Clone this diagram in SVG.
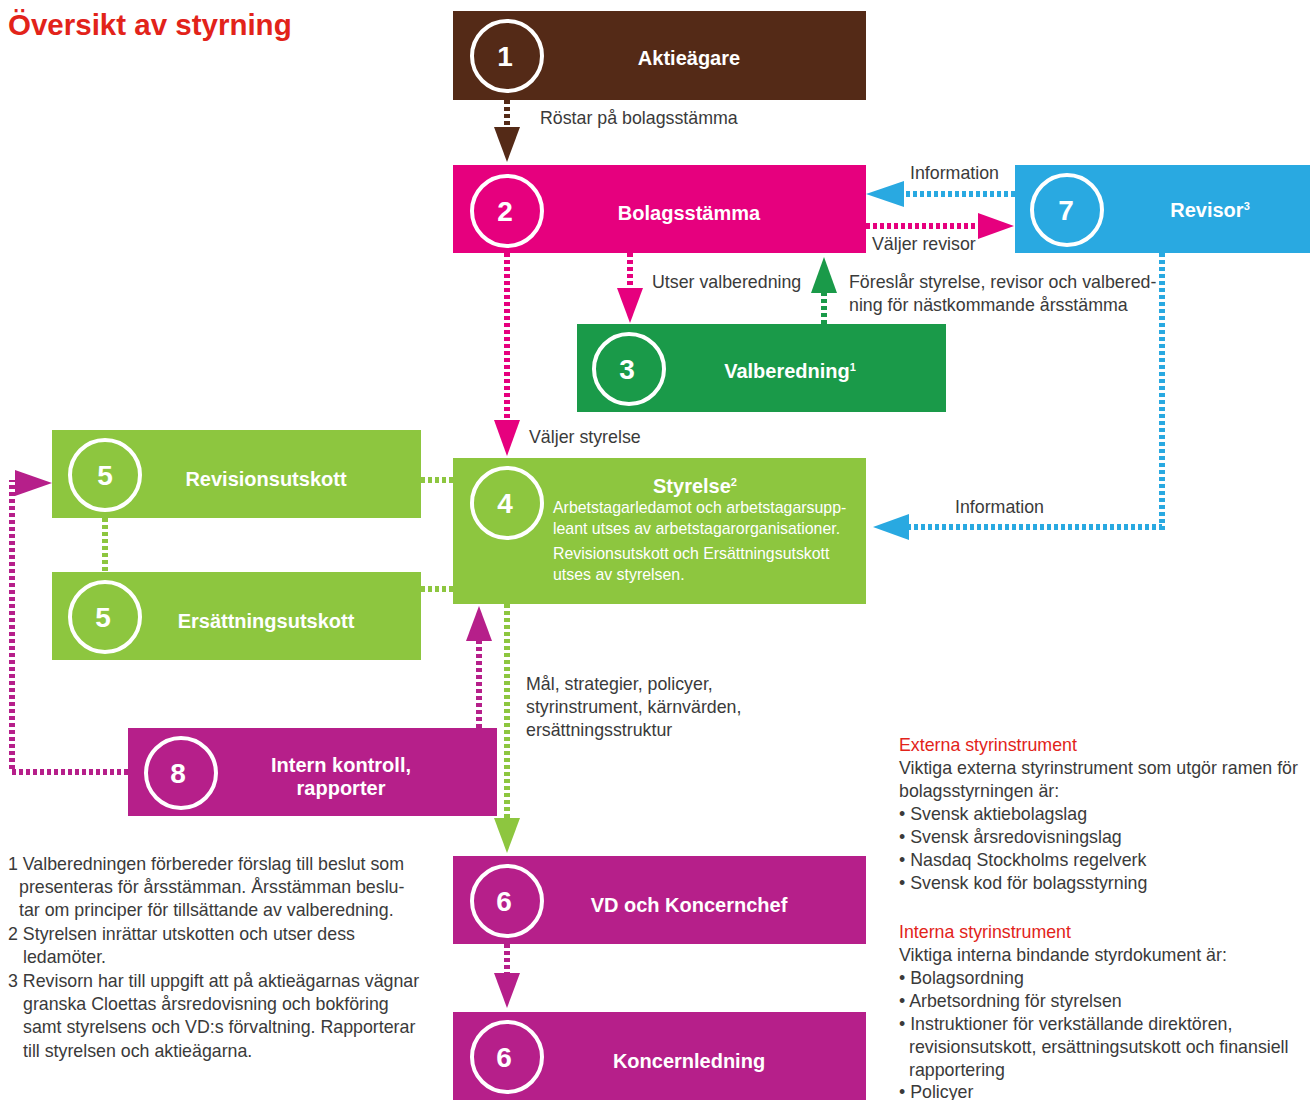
<svg xmlns="http://www.w3.org/2000/svg" width="1312" height="1100" viewBox="0 0 1312 1100">
<style>
  text { font-family: "Liberation Sans", Arial, sans-serif; }
  .title { font-size: 29.5px; font-weight: bold; fill: #e2231a; }
  .num { font-size: 28px; font-weight: bold; fill: #fff; text-anchor: middle; }
  .name { font-size: 20px; font-weight: bold; fill: #fff; text-anchor: middle; }
  .ring { fill: none; stroke: #fff; stroke-width: 4; }
  .lbl { font-size: 17.8px; fill: #3a3a3a; }
  .body { font-size: 15.9px; fill: #fff; }
  .note { font-size: 17.8px; fill: #3a3a3a; }
  .head { font-size: 17.8px; fill: #e2231a; }
  .dot { fill: none; stroke-width: 6; stroke-dasharray: 4 3; }
  .brown { fill: #542a17; stroke: #542a17; }
  .pink { fill: #e6007e; stroke: #e6007e; }
  .blue { fill: #29a9e1; stroke: #29a9e1; }
  .dgreen { fill: #1a9a49; stroke: #1a9a49; }
  .lgreen { fill: #8dc63f; stroke: #8dc63f; }
  .mag { fill: #b61f8a; stroke: #b61f8a; }
  .box { stroke: none; }
</style>

<text class="title" x="8" y="35">Översikt av styrning</text>

<g id="connectors">
  <!-- 1 -> 2 -->
  <line class="dot brown" x1="507" y1="100" x2="507" y2="128" style="fill:none"/>
  <polygon class="brown box" points="494,127 520,127 507,162"/>
  <!-- 7 -> 2 information -->
  <line class="dot blue" x1="1015" y1="194" x2="903" y2="194" style="fill:none"/>
  <polygon class="blue box" points="904,181 904,207 866,194"/>
  <!-- 2 -> 7 -->
  <line class="dot pink" x1="866" y1="226" x2="979" y2="226" style="fill:none"/>
  <polygon class="pink box" points="978,213 978,239 1014,226"/>
  <!-- 2 -> 3 -->
  <line class="dot pink" x1="630" y1="253" x2="630" y2="289" style="fill:none"/>
  <polygon class="pink box" points="617,288 643,288 630,323"/>
  <!-- 3 -> 2 -->
  <line class="dot dgreen" x1="824" y1="324" x2="824" y2="292" style="fill:none"/>
  <polygon class="dgreen box" points="811,293 837,293 824,257"/>
  <!-- 2 -> 4 -->
  <line class="dot pink" x1="507" y1="253" x2="507" y2="421" style="fill:none"/>
  <polygon class="pink box" points="494,420 520,420 507,456"/>
  <!-- 7 -> 4 information -->
  <polyline class="dot blue" points="1162,253 1162,527 907,527" style="fill:none"/>
  <polygon class="blue box" points="909,514 909,540 873,527"/>
  <!-- 5 - 4 -->
  <line class="dot lgreen" x1="421" y1="480" x2="453" y2="480" style="fill:none"/>
  <line class="dot lgreen" x1="421" y1="589" x2="453" y2="589" style="fill:none"/>
  <line class="dot lgreen" x1="105" y1="518" x2="105" y2="572" style="fill:none"/>
  <!-- 4 -> 6 -->
  <line class="dot lgreen" x1="507" y1="604" x2="507" y2="819" style="fill:none"/>
  <polygon class="lgreen box" points="494,818 520,818 507,853"/>
  <!-- 8 -> 4 -->
  <line class="dot mag" x1="479" y1="728" x2="479" y2="640" style="fill:none"/>
  <polygon class="mag box" points="466,641 492,641 479,606"/>
  <!-- 8 -> 5 -->
  <polyline class="dot mag" points="128,772 12,772 12,480" style="fill:none"/>
  <polygon class="mag box" points="15,470 15,496 52,483"/>
  <!-- 6 -> 6 -->
  <line class="dot mag" x1="507" y1="944" x2="507" y2="974" style="fill:none"/>
  <polygon class="mag box" points="494,973 520,973 507,1008"/>

  <text class="lbl" x="540" y="124">Röstar på bolagsstämma</text>
  <text class="lbl" x="910" y="179">Information</text>
  <text class="lbl" x="872" y="250">Väljer revisor</text>
  <text class="lbl" x="652" y="288">Utser valberedning</text>
  <text class="lbl" x="849" y="288">Föreslår styrelse, revisor och valbered-</text>
  <text class="lbl" x="849" y="311">ning för nästkommande årsstämma</text>
  <text class="lbl" x="529" y="443">Väljer styrelse</text>
  <text class="lbl" x="955" y="513">Information</text>
  <text class="lbl" x="526" y="690">Mål, strategier, policyer,</text>
  <text class="lbl" x="526" y="713">styrinstrument, kärnvärden,</text>
  <text class="lbl" x="526" y="736">ersättningsstruktur</text>
</g>

<g id="node1">
  <rect class="brown box" x="453" y="11" width="413" height="89"/>
  <circle class="ring" cx="507" cy="56" r="35"/>
  <text class="num" x="505" y="66">1</text>
  <text class="name" x="689" y="65">Aktieägare</text>
</g>

<g id="node2">
  <rect class="pink box" x="453" y="165" width="413" height="88"/>
  <circle class="ring" cx="507" cy="211" r="35"/>
  <text class="num" x="505" y="221">2</text>
  <text class="name" x="689" y="220">Bolagsstämma</text>
</g>

<g id="node7">
  <rect class="blue box" x="1015" y="165" width="295" height="88"/>
  <circle class="ring" cx="1067" cy="210" r="35"/>
  <text class="num" x="1066" y="220">7</text>
  <text class="name" x="1210" y="217">Revisor<tspan font-size="11" dy="-7">3</tspan></text>
</g>

<g id="node3">
  <rect class="dgreen box" x="577" y="324" width="369" height="88"/>
  <circle class="ring" cx="629" cy="369" r="35"/>
  <text class="num" x="627" y="379">3</text>
  <text class="name" x="790" y="378">Valberedning<tspan font-size="11" dy="-7">1</tspan></text>
</g>

<g id="node4">
  <rect class="lgreen box" x="453" y="458" width="413" height="146"/>
  <circle class="ring" cx="507" cy="503" r="35"/>
  <text class="num" x="505" y="513">4</text>
  <text class="name" x="695" y="493">Styrelse<tspan font-size="11" dy="-7">2</tspan></text>
  <text class="body" x="553" y="513">Arbetstagarledamot och arbetstagarsupp-</text>
  <text class="body" x="553" y="534">leant utses av arbetstagarorganisationer.</text>
  <text class="body" x="553" y="559">Revisionsutskott och Ersättningsutskott</text>
  <text class="body" x="553" y="580">utses av styrelsen.</text>
</g>

<g id="node5a">
  <rect class="lgreen box" x="52" y="430" width="369" height="88"/>
  <circle class="ring" cx="105" cy="475" r="35"/>
  <text class="num" x="105" y="485">5</text>
  <text class="name" x="266" y="486">Revisionsutskott</text>
</g>

<g id="node5b">
  <rect class="lgreen box" x="52" y="572" width="369" height="88"/>
  <circle class="ring" cx="105" cy="617" r="35"/>
  <text class="num" x="103" y="627">5</text>
  <text class="name" x="266" y="628">Ersättningsutskott</text>
</g>

<g id="node8">
  <rect class="mag box" x="128" y="728" width="369" height="88"/>
  <circle class="ring" cx="181" cy="773" r="35"/>
  <text class="num" x="178" y="783">8</text>
  <text class="name" x="341" y="772">Intern kontroll,</text>
  <text class="name" x="341" y="795">rapporter</text>
</g>

<g id="node6a">
  <rect class="mag box" x="453" y="856" width="413" height="88"/>
  <circle class="ring" cx="507" cy="901" r="35"/>
  <text class="num" x="504" y="911">6</text>
  <text class="name" x="689" y="912">VD och Koncernchef</text>
</g>

<g id="node6b">
  <rect class="mag box" x="453" y="1012" width="413" height="88"/>
  <circle class="ring" cx="507" cy="1057" r="35"/>
  <text class="num" x="504" y="1067">6</text>
  <text class="name" x="689" y="1068">Koncernledning</text>
</g>

<g id="footnotes">
  <text class="note" x="8" y="870">1 Valberedningen förbereder förslag till beslut som</text>
  <text class="note" x="19" y="893">presenteras för årsstämman. Årsstämman beslu-</text>
  <text class="note" x="19" y="916">tar om principer för tillsättande av valberedning.</text>
  <text class="note" x="8" y="940">2 Styrelsen inrättar utskotten och utser dess</text>
  <text class="note" x="23" y="963">ledamöter.</text>
  <text class="note" x="8" y="987">3 Revisorn har till uppgift att på aktieägarnas vägnar</text>
  <text class="note" x="23" y="1010">granska Cloettas årsredovisning och bokföring</text>
  <text class="note" x="23" y="1033">samt styrelsens och VD:s förvaltning. Rapporterar</text>
  <text class="note" x="23" y="1057">till styrelsen och aktieägarna.</text>
</g>

<g id="instruments">
  <text class="head" x="899" y="751">Externa styrinstrument</text>
  <text class="note" x="899" y="774">Viktiga externa styrinstrument som utgör ramen för</text>
  <text class="note" x="899" y="797">bolagsstyrningen är:</text>
  <text class="note" x="899" y="820">• Svensk aktiebolagslag</text>
  <text class="note" x="899" y="843">• Svensk årsredovisningslag</text>
  <text class="note" x="899" y="866">• Nasdaq Stockholms regelverk</text>
  <text class="note" x="899" y="889">• Svensk kod för bolagsstyrning</text>
  <text class="head" x="899" y="938">Interna styrinstrument</text>
  <text class="note" x="899" y="961">Viktiga interna bindande styrdokument är:</text>
  <text class="note" x="899" y="984">• Bolagsordning</text>
  <text class="note" x="899" y="1007">• Arbetsordning för styrelsen</text>
  <text class="note" x="899" y="1030">• Instruktioner för verkställande direktören,</text>
  <text class="note" x="909" y="1053">revisionsutskott, ersättningsutskott och finansiell</text>
  <text class="note" x="909" y="1076">rapportering</text>
  <text class="note" x="899" y="1098">• Policyer</text>
</g>
</svg>
